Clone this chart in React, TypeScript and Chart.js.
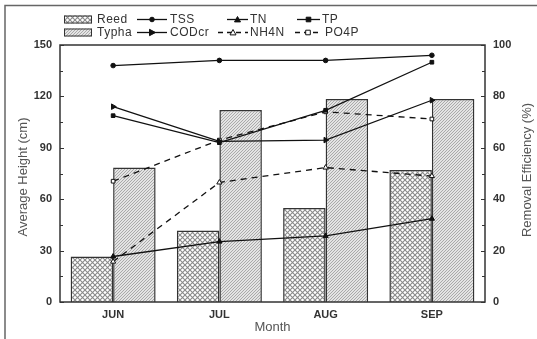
import React, { useEffect, useRef } from 'react';
import { Chart, registerables } from 'chart.js';
Chart.register(...registerables);

const months = ['JUN', 'JUL', 'AUG', 'SEP'];
const reedHeight = [26.5, 41.7, 54.8, 77];
const typhaHeight = [78.5, 112, 118.5, 118.5];
const tss = [92, 94, 94, 96];
const codcr = [76, 62.5, 63, 78.5];
const tn = [17.7, 23.5, 25.7, 32.4];
const nh4n = [15.7, 46.5, 52.3, 49];
const tp = [72.5, 62, 74.6, 93.3];
const po4p = [47, 63, 74, 71.2];
const leftTickStep = 30;
const rightTickStep = 20;
const leftMax = 150;
const rightMax = 100;

const FONT = '"Liberation Sans", Arial, sans-serif';

function makeReedPattern(ctx: CanvasRenderingContext2D) {
  const c = document.createElement('canvas');
  c.width = 5; c.height = 5;
  const g = c.getContext('2d')!;
  g.fillStyle = '#ffffff';
  g.fillRect(0, 0, 5, 5);
  g.strokeStyle = '#8a8a8a';
  g.lineWidth = 1.1;
  g.beginPath();
  g.moveTo(-1, -1); g.lineTo(6, 6);
  g.moveTo(6, -1); g.lineTo(-1, 6);
  g.stroke();
  return ctx.createPattern(c, 'repeat')!;
}

function makeTyphaPattern(ctx: CanvasRenderingContext2D) {
  const c = document.createElement('canvas');
  c.width = 3; c.height = 3;
  const g = c.getContext('2d')!;
  g.fillStyle = '#e4e4e4';
  g.fillRect(0, 0, 3, 3);
  g.strokeStyle = '#9a9a9a';
  g.lineWidth = 0.8;
  g.beginPath();
  g.moveTo(-1, 4); g.lineTo(4, -1);
  g.moveTo(-1, 1); g.lineTo(1, -1);
  g.moveTo(2, 4); g.lineTo(4, 2);
  g.stroke();
  return ctx.createPattern(c, 'repeat')!;
}

function drawMarker(ctx: CanvasRenderingContext2D, kind: string, x: number, y: number, open: boolean) {
  ctx.save();
  ctx.lineWidth = 1;
  ctx.strokeStyle = '#111';
  ctx.fillStyle = open ? '#fff' : '#111';
  ctx.beginPath();
  if (kind === 'circle') {
    ctx.arc(x, y, 2.3, 0, Math.PI * 2);
  } else if (kind === 'rect') {
    ctx.rect(x - 2.3, y - 2.3, 4.6, 4.6);
  } else if (kind === 'triangle') {
    ctx.moveTo(x, y - 3); ctx.lineTo(x + 3, y + 2.4); ctx.lineTo(x - 3, y + 2.4); ctx.closePath();
  } else if (kind === 'triright') {
    ctx.moveTo(x + 3.5, y); ctx.lineTo(x - 2.5, y - 3.2); ctx.lineTo(x - 2.5, y + 3.2); ctx.closePath();
  }
  ctx.fill();
  ctx.stroke();
  ctx.restore();
}

export default function App() {
  const ref = useRef<HTMLCanvasElement>(null);
  useEffect(() => {
    document.body.style.margin = '0';
    const canvas = ref.current!;
    const ctx0 = canvas.getContext('2d')!;
    const reedPat = makeReedPattern(ctx0);
    const typhaPat = makeTyphaPattern(ctx0);

    const lineBase = {
      type: 'line' as const,
      yAxisID: 'y1',
      borderColor: '#111',
      borderWidth: 1.3,
      pointBorderColor: '#111',
      pointBorderWidth: 1,
      tension: 0,
      order: 1,
    };

    const decorPlugin = {
      id: 'decor',
      beforeDraw(chart: any) {
        const ctx = chart.ctx as CanvasRenderingContext2D;
        ctx.save();
        ctx.fillStyle = '#fff';
        ctx.fillRect(0, 0, chart.width, chart.height);
        ctx.restore();
      },
      afterDraw(chart: any) {
        const ctx = chart.ctx as CanvasRenderingContext2D;
        const a = chart.chartArea;
        ctx.save();
        // outer frame (top + left)
        ctx.strokeStyle = '#666';
        ctx.lineWidth = 1.5;
        ctx.beginPath();
        ctx.moveTo(5, 339); ctx.lineTo(5, 5.5); ctx.lineTo(537, 5.5);
        ctx.stroke();
        // plot frame
        ctx.strokeStyle = '#333';
        ctx.lineWidth = 1.5;
        ctx.strokeRect(a.left, a.top, a.right - a.left, a.bottom - a.top);
        // inward ticks
        const yl = chart.scales.y;
        const yr = chart.scales.y1;
        ctx.lineWidth = 1;
        ctx.beginPath();
        for (let v = 0; v <= leftMax; v += leftTickStep / 2) {
          const py = Math.round(yl.getPixelForValue(v)) + 0.5;
          const len = v % leftTickStep === 0 ? 4 : 3;
          ctx.moveTo(a.left, py); ctx.lineTo(a.left + len, py);
        }
        for (let v = 0; v <= rightMax; v += rightTickStep / 2) {
          const py = Math.round(yr.getPixelForValue(v)) + 0.5;
          const len = v % rightTickStep === 0 ? 4 : 3;
          ctx.moveTo(a.right, py); ctx.lineTo(a.right - len, py);
        }
        ctx.stroke();

        // axis titles
        ctx.fillStyle = '#555';
        ctx.font = `13px ${FONT}`;
        ctx.textAlign = 'center';
        ctx.textBaseline = 'middle';
        ctx.fillText('Month', (a.left + a.right) / 2, 327);
        ctx.save();
        ctx.translate(23, 177);
        ctx.rotate(-Math.PI / 2);
        ctx.fillText('Average Height (cm)', 0, 0);
        ctx.restore();
        ctx.save();
        ctx.translate(527.5, 170);
        ctx.rotate(-Math.PI / 2);
        ctx.fillText('Removal Efficiency (%)', 0, 0);
        ctx.restore();

        // legend
        const ds = chart.data.datasets;
        ctx.font = `12px ${FONT}`;
        (ctx as any).letterSpacing = '0.5px';
        ctx.fillStyle = '#333';
        ctx.textAlign = 'left';
        ctx.textBaseline = 'middle';
        const rows = [19.5, 32.5];
        // bars
        const bars = [ds[0], ds[1]];
        bars.forEach((d: any, i: number) => {
          const y = rows[i];
          ctx.fillStyle = d.backgroundColor;
          ctx.fillRect(64, y - 4, 28, 8);
          ctx.strokeStyle = '#333';
          ctx.lineWidth = 1;
          ctx.strokeRect(64.5, y - 3.5, 27, 7);
          ctx.fillStyle = '#333';
          ctx.fillText(d.label, 97, y + 0.5);
        });
        const items: any[] = [
          { d: ds[2], row: 0, x1: 137, x2: 167, tx: 170 },
          { d: ds[3], row: 0, x1: 227, x2: 248, tx: 250 },
          { d: ds[4], row: 0, x1: 297, x2: 320, tx: 322 },
          { d: ds[5], row: 1, x1: 137, x2: 167, tx: 170 },
          { d: ds[6], row: 1, x1: 218, x2: 248, tx: 250 },
          { d: ds[7], row: 1, x1: 295, x2: 321, tx: 325 },
        ];
        items.forEach((it) => {
          const y = rows[it.row];
          const d = it.d;
          ctx.save();
          ctx.strokeStyle = '#111';
          ctx.lineWidth = 1.3;
          if (d.borderDash) ctx.setLineDash([5, 4]);
          ctx.beginPath();
          ctx.moveTo(it.x1, y); ctx.lineTo(it.x2, y);
          ctx.stroke();
          ctx.restore();
          drawMarker(ctx, d.legendMarker, (it.x1 + it.x2) / 2, y, d.pointBackgroundColor === '#ffffff');
          ctx.fillStyle = '#333';
          ctx.fillText(d.label, it.tx, y + 0.5);
        });
        ctx.restore();
      },
    };

    const chart = new Chart(canvas, {
      type: 'bar',
      data: {
        labels: months,
        datasets: [
          {
            label: 'Reed', data: reedHeight, yAxisID: 'y', backgroundColor: reedPat,
            borderColor: '#333', borderWidth: 1.5, categoryPercentage: 0.8, barPercentage: 1.0, order: 2,
          } as any,
          {
            label: 'Typha', data: typhaHeight, yAxisID: 'y', backgroundColor: typhaPat,
            borderColor: '#333', borderWidth: 1.5, categoryPercentage: 0.8, barPercentage: 1.0, order: 2,
          } as any,
          { ...lineBase, label: 'TSS', data: tss, pointStyle: 'circle', pointRadius: 2.3, pointBackgroundColor: '#111', legendMarker: 'circle' } as any,
          { ...lineBase, label: 'TN', data: tn, pointStyle: 'triangle', pointRadius: 3, pointBackgroundColor: '#111', legendMarker: 'triangle' } as any,
          { ...lineBase, label: 'TP', data: tp, pointStyle: 'rect', pointRadius: 2.6, pointBackgroundColor: '#111', legendMarker: 'rect' } as any,
          { ...lineBase, label: 'CODcr', data: codcr, pointStyle: 'triangle', rotation: 90, pointRadius: 3.2, pointBackgroundColor: '#111', legendMarker: 'triright' } as any,
          { ...lineBase, label: 'NH4N', data: nh4n, pointStyle: 'triangle', pointRadius: 3, pointBackgroundColor: '#ffffff', borderDash: [6, 5], legendMarker: 'triangle' } as any,
          { ...lineBase, label: 'PO4P', data: po4p, pointStyle: 'rect', pointRadius: 2.6, pointBackgroundColor: '#ffffff', borderDash: [6, 5], legendMarker: 'rect' } as any,
        ],
      },
      options: {
        responsive: false,
        animation: false,
        events: [],
        layout: { padding: { top: 45, left: 0, right: 0, bottom: 0 } },
        plugins: { legend: { display: false }, tooltip: { enabled: false }, title: { display: false } },
        scales: {
          x: {
            type: 'category',
            offset: true,
            grid: { display: false, drawTicks: false },
            border: { display: false },
            ticks: { font: { family: FONT, size: 11, weight: 'bold' }, color: '#333', padding: 6 },
            afterFit: (s: any) => { s.height = 37; },
          },
          y: {
            position: 'left',
            min: 0, max: leftMax,
            grid: { display: false, drawTicks: false },
            border: { display: false },
            ticks: { stepSize: leftTickStep, font: { family: FONT, size: 11, weight: 'bold' }, color: '#333', padding: 8 },
            afterFit: (s: any) => { s.width = 60; },
          },
          y1: {
            position: 'right',
            min: 0, max: rightMax,
            grid: { display: false, drawTicks: false },
            border: { display: false },
            ticks: { stepSize: rightTickStep, font: { family: FONT, size: 11, weight: 'bold' }, color: '#333', padding: 8 },
            afterFit: (s: any) => { s.width = 52; },
          },
        },
      } as any,
      plugins: [decorPlugin],
    });
    return () => chart.destroy();
  }, []);
  return (
    <div style={{ position: 'absolute', left: 0, top: 0, width: 537, height: 339 }}>
      <canvas ref={ref} width={537} height={339} style={{ display: 'block', width: 537, height: 339 }} />
    </div>
  );
}
